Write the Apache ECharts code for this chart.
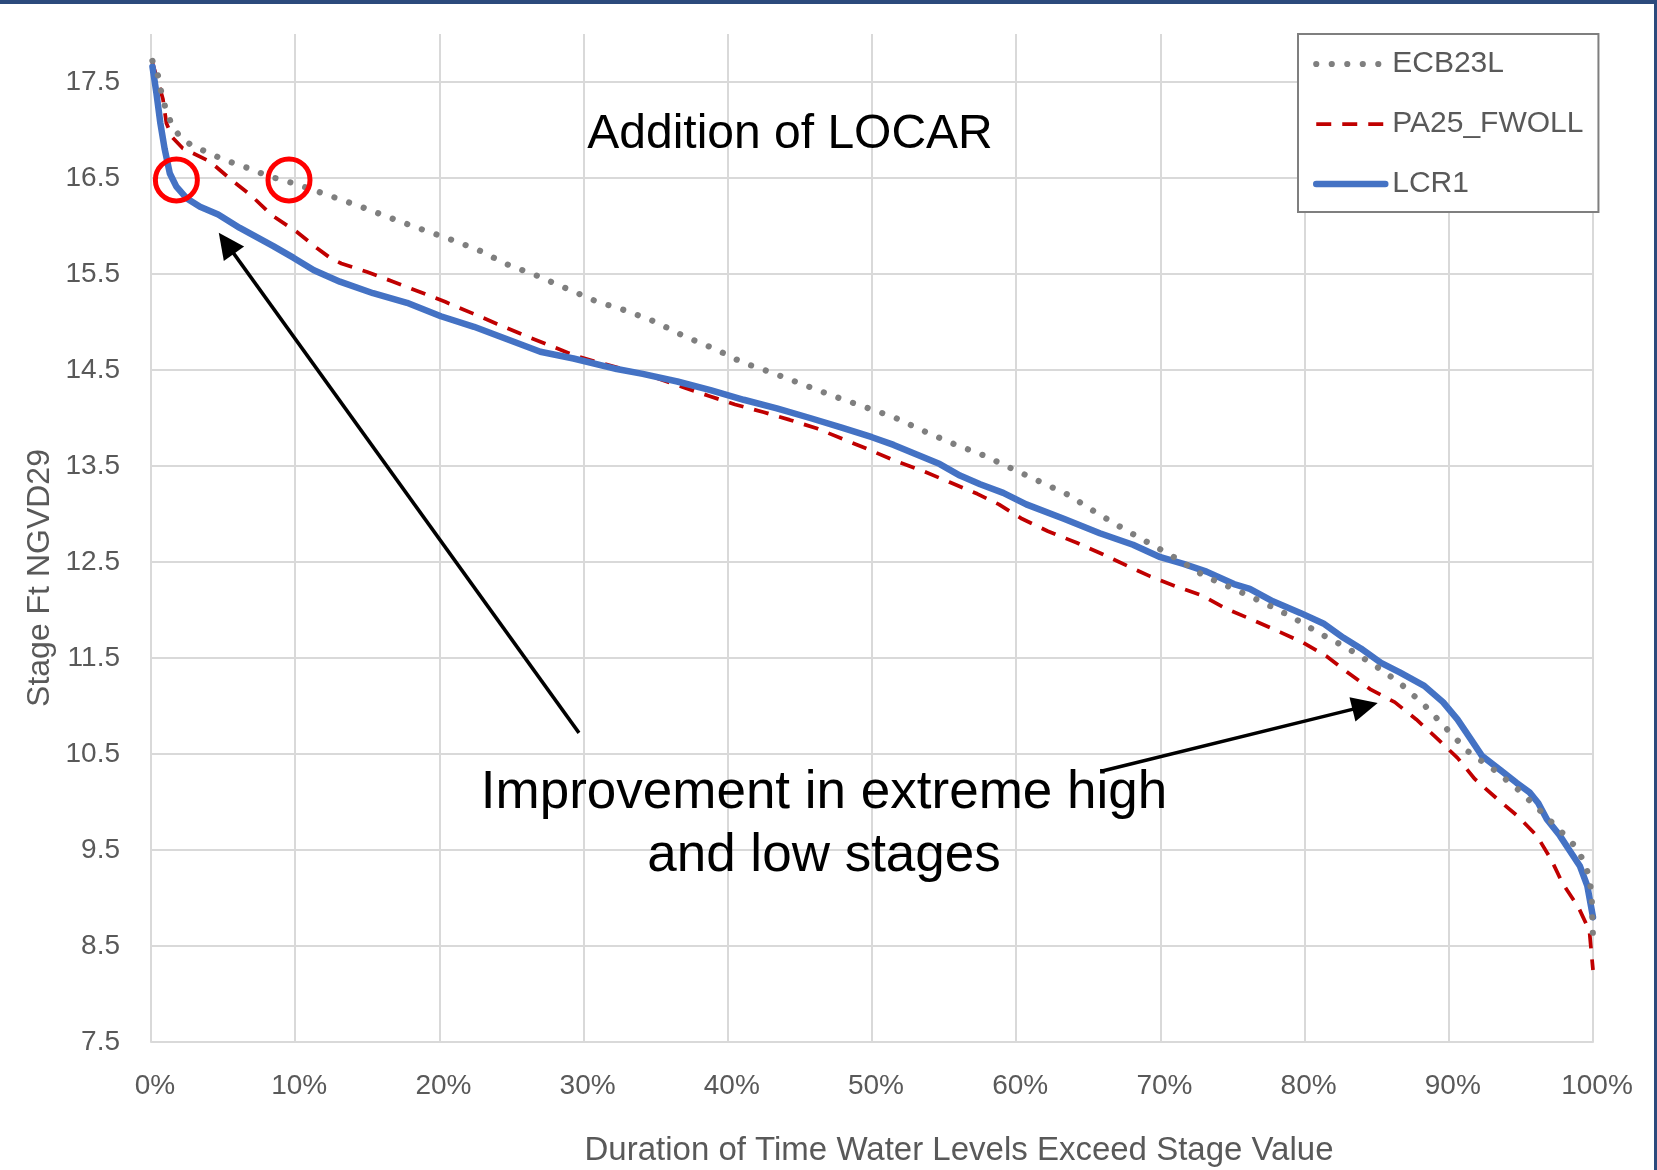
<!DOCTYPE html>
<html><head><meta charset="utf-8">
<script src="https://cdn.jsdelivr.net/npm/echarts@6/dist/echarts.min.js"></script>
<style>html,body{margin:0;padding:0;background:#fff}#c{width:1657px;height:1170px}</style>
</head><body><div id="c"></div>
<script>
// ---- data (x = % of time exceeded, y = stage ft NGVD29) ----
const ECB23L = [[0.1,17.72],[0.5,17.56],[0.72,17.39],[1.0,17.23],[1.4,17.07],[2.0,16.93],[2.9,16.83],[3.9,16.77],[4.9,16.70],[6.0,16.64],[7.0,16.59],[8.1,16.52],[9.1,16.48],[10.2,16.43],[12.3,16.32],[14.4,16.21],[16.5,16.09],[18.5,15.98],[20.6,15.87],[22.7,15.75],[24.7,15.60],[26.8,15.48],[28.8,15.35],[30.8,15.22],[32.9,15.12],[35.0,15.00],[37.0,14.85],[39.1,14.72],[41.0,14.58],[43.1,14.47],[45.2,14.35],[47.3,14.23],[49.4,14.12],[51.5,14.01],[53.5,13.87],[55.5,13.74],[57.6,13.62],[59.6,13.48],[61.6,13.34],[63.6,13.20],[65.5,13.02],[67.4,12.85],[69.3,12.69],[71.2,12.53],[73.1,12.35],[75.1,12.22],[77.1,12.08],[79.1,11.93],[81.0,11.76],[83.0,11.60],[84.8,11.43],[86.6,11.24],[88.3,11.01],[89.8,10.77],[91.3,10.53],[93.1,10.34],[94.8,10.13],[96.4,9.90],[98.0,9.66],[98.75,9.54],[99.3,9.40],[99.7,9.24],[99.9,9.05],[100,8.58]];
const PA25_FWOLL = [[0.1,17.70],[0.5,17.50],[0.83,17.32],[1.07,17.07],[1.5,16.92],[2.2,16.81],[4.1,16.67],[5.5,16.49],[7.0,16.31],[8.4,16.11],[10.1,15.94],[11.5,15.77],[12.5,15.66],[13.2,15.61],[15.0,15.52],[16.8,15.42],[18.7,15.31],[20.4,15.21],[22.3,15.09],[24.0,14.98],[25.9,14.86],[27.6,14.76],[29.4,14.65],[31.0,14.58],[33.0,14.50],[35.0,14.42],[36.9,14.32],[38.7,14.23],[40.5,14.14],[42.5,14.06],[44.3,13.98],[46.2,13.89],[48.0,13.78],[49.8,13.67],[51.5,13.56],[53.5,13.45],[55.4,13.33],[57.3,13.21],[58.8,13.10],[60.4,12.95],[62.2,12.82],[64.2,12.70],[66.0,12.58],[67.7,12.46],[69.3,12.35],[71.0,12.25],[72.9,12.15],[74.6,12.01],[76.5,11.89],[78.3,11.77],[79.9,11.66],[81.5,11.52],[82.9,11.36],[84.6,11.17],[86.25,11.04],[87.75,10.86],[89.2,10.66],[90.6,10.46],[91.8,10.24],[93.3,10.04],[94.8,9.85],[96.1,9.65],[97.1,9.40],[97.9,9.15],[99.0,8.90],[99.75,8.66],[100,8.25]];
const LCR1 = [[0.1,17.66],[0.37,17.39],[0.65,17.07],[0.95,16.80],[1.3,16.55],[1.76,16.41],[2.46,16.29],[3.4,16.20],[4.66,16.12],[6.16,15.98],[8.48,15.79],[9.87,15.67],[11.3,15.54],[13.1,15.42],[15.4,15.30],[17.75,15.20],[20.1,15.06],[22.4,14.95],[24.7,14.82],[27.0,14.69],[29.3,14.62],[32.3,14.51],[34.1,14.46],[36.5,14.38],[38.8,14.29],[41.1,14.19],[43.4,14.10],[45.7,14.00],[47.9,13.90],[50.0,13.80],[51.5,13.72],[53.1,13.62],[54.7,13.52],[56.1,13.40],[57.5,13.31],[59.1,13.22],[60.7,13.10],[63.3,12.95],[65.8,12.80],[68.1,12.68],[70.0,12.55],[71.6,12.48],[73.2,12.40],[75.1,12.27],[76.2,12.22],[77.8,12.09],[79.7,11.97],[81.3,11.86],[82.7,11.71],[83.9,11.60],[85.3,11.45],[86.6,11.35],[88.3,11.21],[89.6,11.04],[90.6,10.86],[91.5,10.66],[92.3,10.48],[93.6,10.33],[94.7,10.20],[95.6,10.10],[96.2,9.99],[96.8,9.82],[97.7,9.65],[98.4,9.49],[99.1,9.33],[99.6,9.13],[100,8.80]];

const circleMarks = [[1.76,16.48],[9.57,16.48]];
const arrowTails = [[29.68,10.72],[65.9,10.32]];
const arrowTips = [[4.70,15.93],[85.07,11.03]];

const titleText = 'Addition of LOCAR';
const noteText = 'Improvement in extreme high\nand low stages';
const xName = 'Duration of Time Water Levels Exceed Stage Value';
const yName = 'Stage Ft NGVD29';

// ---- styles ----
const FONT = '"Liberation Sans", Arial, sans-serif';
const GRAY = '#7f7f7f', RED = '#c00000', BLUE = '#4472c4', GRID = '#d9d9d9', TXT = '#595959';
const dotStyle = {color: GRAY, width: 6.2, type: [0.01, 15.5], cap: 'round', join: 'round'};
const dashStyle = {color: RED, width: 3.75, type: [15, 11], cap: 'butt'};
const solidStyle = {color: BLUE, width: 6.5, type: 'solid', cap: 'round', join: 'round'};
const hiddenSymbol = {color: 'rgba(0,0,0,0)', borderColor: 'rgba(0,0,0,0)', borderWidth: 0, opacity: 0};

const chart = echarts.init(document.getElementById('c'));

chart.setOption({
  animation: false,
  backgroundColor: '#fff',
  grid: {left: 151, right: 64, top: 34, bottom: 128, outerBoundsMode: 'none'},
  xAxis: {
    type: 'value', min: 0, max: 100, interval: 10,
    axisLine: {show: true, lineStyle: {color: GRID, width: 2}},
    axisTick: {show: false},
    splitLine: {show: true, lineStyle: {color: GRID, width: 2}},
    axisLabel: {formatter: v => v + '%', color: TXT, fontSize: 28, fontFamily: FONT, margin: 30, padding: [0, 0, 0, 8]}
  },
  yAxis: {
    type: 'value', min: 7.5, max: 18, interval: 0.5,
    axisLine: {show: false}, axisTick: {show: false},
    splitLine: {show: true, lineStyle: {color: [GRID, 'rgba(0,0,0,0)'], width: 2}},
    axisLabel: {
      formatter: v => (Math.abs(Math.round(v * 2) % 2) === 1 ? v.toFixed(1) : ''),
      color: TXT, fontSize: 28, fontFamily: FONT, margin: 31
    }
  },
  legend: {
    orient: 'vertical', left: 1298, top: 34,
    padding: [15, 15, 13, 15],
    itemWidth: 69, itemHeight: 30, itemGap: 30,
    borderColor: '#7f7f7f', borderWidth: 2, backgroundColor: '#fff',
    textStyle: {fontSize: 30, color: TXT, fontFamily: FONT, lineHeight: 30, padding: [0, 0, 0, 2]},
    data: [
      {name: 'ECB23L', lineStyle: dotStyle, itemStyle: hiddenSymbol},
      {name: 'PA25_FWOLL', lineStyle: dashStyle, itemStyle: hiddenSymbol},
      {name: 'LCR1', lineStyle: solidStyle, itemStyle: hiddenSymbol}
    ]
  },
  series: [
    {name: 'PA25_FWOLL', type: 'line', data: PA25_FWOLL, symbol: 'none', lineStyle: dashStyle, itemStyle: {color: RED}, z: 2},
    {name: 'LCR1', type: 'line', data: LCR1, symbol: 'none', lineStyle: solidStyle, itemStyle: {color: BLUE}, z: 3},
    {name: 'ECB23L', type: 'line', data: ECB23L, symbol: 'none', lineStyle: dotStyle, itemStyle: {color: GRAY}, z: 4}
  ]
});

// ---- annotations placed through the chart's own scales ----
const g = [];
g.push({type: 'rect', shape: {x: 0, y: 0, width: 1657, height: 4}, style: {fill: '#2c4a7c'}, z: 100});
g.push({type: 'rect', shape: {x: 1654, y: 0, width: 3, height: 1170}, style: {fill: '#2c4a7c'}, z: 100});

circleMarks.forEach(c => {
  const p = chart.convertToPixel({gridIndex: 0}, c);
  g.push({type: 'circle', shape: {cx: p[0], cy: p[1], r: 21}, style: {fill: 'rgba(0,0,0,0)', stroke: '#ff0000', lineWidth: 5}, z: 50});
});

arrowTails.forEach((t, i) => {
  const p0 = chart.convertToPixel({gridIndex: 0}, t);
  const p1 = chart.convertToPixel({gridIndex: 0}, arrowTips[i]);
  const dx = p1[0] - p0[0], dy = p1[1] - p0[1];
  const len = Math.sqrt(dx * dx + dy * dy);
  const ux = dx / len, uy = dy / len, px = -uy, py = ux;
  const L = 26, W = 25;
  const bx = p1[0] - ux * L, by = p1[1] - uy * L;
  g.push({type: 'line', shape: {x1: p0[0], y1: p0[1], x2: bx + ux * 3, y2: by + uy * 3}, style: {stroke: '#000', lineWidth: 3.5}, z: 50});
  g.push({type: 'polygon', shape: {points: [[p1[0], p1[1]], [bx + px * W / 2, by + py * W / 2], [bx - px * W / 2, by - py * W / 2]]}, style: {fill: '#000'}, z: 50});
});

g.push({type: 'text', x: 790, y: 135, z: 60, style: {text: titleText, fontSize: 48, fontFamily: FONT, fill: '#000', align: 'center', verticalAlign: 'middle'}});
g.push({type: 'text', x: 824, y: 825, z: 60, style: {text: noteText, fontSize: 53, lineHeight: 63, fontFamily: FONT, fill: '#000', align: 'center', verticalAlign: 'middle'}});
g.push({type: 'text', x: 959, y: 1151, z: 60, style: {text: xName, fontSize: 33, fontFamily: FONT, fill: TXT, align: 'center', verticalAlign: 'middle'}});
g.push({type: 'text', x: 40, y: 578, rotation: Math.PI / 2, z: 60, style: {text: yName, fontSize: 32, fontFamily: FONT, fill: TXT, align: 'center', verticalAlign: 'middle'}});

chart.setOption({graphic: g});
</script>
</body></html>
